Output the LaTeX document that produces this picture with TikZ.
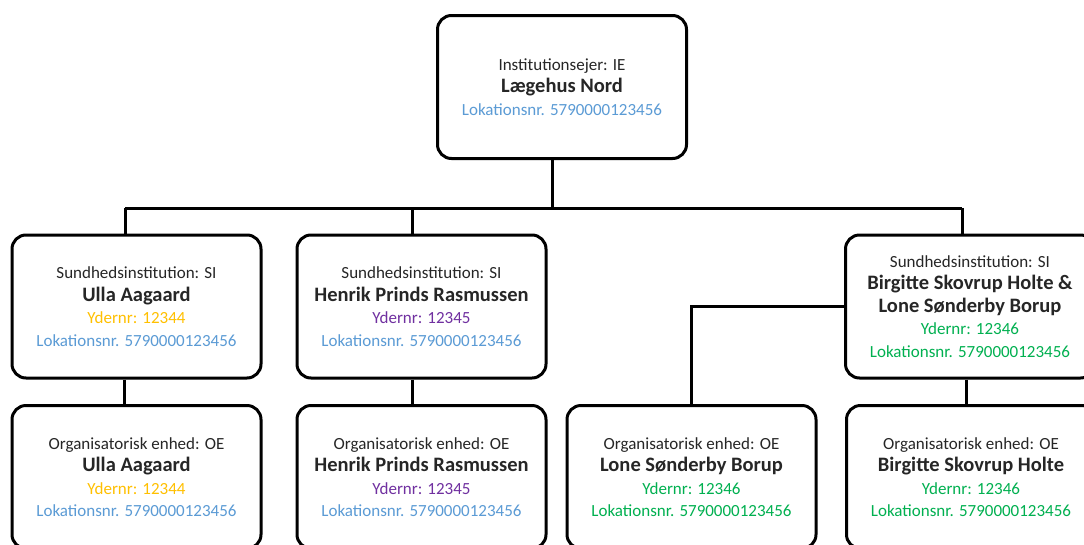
\documentclass[tikz,border=0pt]{standalone}
\usepackage{fontspec}
\setmainfont{Carlito}
\definecolor{lokblue}{HTML}{5B9BD5}
\definecolor{ydyellow}{HTML}{FFC000}
\definecolor{ydpurple}{HTML}{7030A0}
\definecolor{ydgreen}{HTML}{00B050}
\newcommand{\boldname}[1]{{\bfseries\fontsize{20.5}{22.5}\selectfont #1}}
\begin{document}
\begin{tikzpicture}[x=1pt, y=-1pt,
    box/.style={draw, line width=3pt, rounded corners=14pt, fill=white, minimum width=249pt, minimum height=143pt, align=center, text=black!85, font=\fontsize{17}{22.5}\selectfont},
    conn/.style={line width=3pt}
]
    \useasboundingbox (0,0) rectangle (1084,544);
    \fill[white] (0,0) rectangle (1084,544);
    \clip (0,0) rectangle (1084,544);

    % Institution owner at top
    \node[box] (ie) at (562,87) {Institutionsejer: IE\\\boldname{Lægehus Nord}\\\textcolor{lokblue}{Lokationsnr. 5790000123456}};

    % Health institutions
    \node[box] (si1) at (136.5,306.5) {Sundhedsinstitution: SI\\\boldname{Ulla Aagaard}\\\textcolor{ydyellow}{Ydernr: 12344}\\\textcolor{lokblue}{Lokationsnr. 5790000123456}};
    \node[box] (si2) at (421.5,306.5) {Sundhedsinstitution: SI\\\boldname{Henrik Prinds Rasmussen}\\\textcolor{ydpurple}{Ydernr: 12345}\\\textcolor{lokblue}{Lokationsnr. 5790000123456}};
    \node[box] (si3) at (970,306.5) {Sundhedsinstitution: SI\\\boldname{Birgitte Skovrup Holte \&}\\\boldname{Lone Sønderby Borup}\\\textcolor{ydgreen}{Ydernr: 12346}\\\textcolor{ydgreen}{Lokationsnr. 5790000123456}};

    % Organisational units
    \node[box] (oe1) at (136.5,477) {Organisatorisk enhed: OE\\\boldname{Ulla Aagaard}\\\textcolor{ydyellow}{Ydernr: 12344}\\\textcolor{lokblue}{Lokationsnr. 5790000123456}};
    \node[box] (oe2) at (421.5,477) {Organisatorisk enhed: OE\\\boldname{Henrik Prinds Rasmussen}\\\textcolor{ydpurple}{Ydernr: 12345}\\\textcolor{lokblue}{Lokationsnr. 5790000123456}};
    \node[box] (oe3) at (691.5,477) {Organisatorisk enhed: OE\\\boldname{Lone Sønderby Borup}\\\textcolor{ydgreen}{Ydernr: 12346}\\\textcolor{ydgreen}{Lokationsnr. 5790000123456}};
    \node[box] (oe4) at (971,477) {Organisatorisk enhed: OE\\\boldname{Birgitte Skovrup Holte}\\\textcolor{ydgreen}{Ydernr: 12346}\\\textcolor{ydgreen}{Lokationsnr. 5790000123456}};

    % Bus line
    \coordinate (busL) at (125,208);
    \coordinate (busR) at (962,208);
    \draw[conn] (busL) -- (busR);

    % Connectors
    \draw[conn] ([xshift=-10pt]ie.south) -- ([xshift=-10pt]ie.south |- busL);
    \draw[conn] (busL) -- (busL |- si1.north);
    \draw[conn] ([xshift=-9.5pt]si2.north) -- ([xshift=-9.5pt]si2.north |- busL);
    \draw[conn] (busR) -- (busR |- si3.north);
    \draw[conn] ([xshift=-12pt]si1.south) -- ([xshift=-12pt]oe1.north);
    \draw[conn] ([xshift=-9.5pt]si2.south) -- ([xshift=-9.5pt]oe2.north);
    \draw[conn] ([xshift=-4pt]si3.south) -- ([xshift=-4pt]oe4.north -| si3.south);
    \draw[conn] (si3.west) -| (oe3.north);
\end{tikzpicture}
\end{document}
